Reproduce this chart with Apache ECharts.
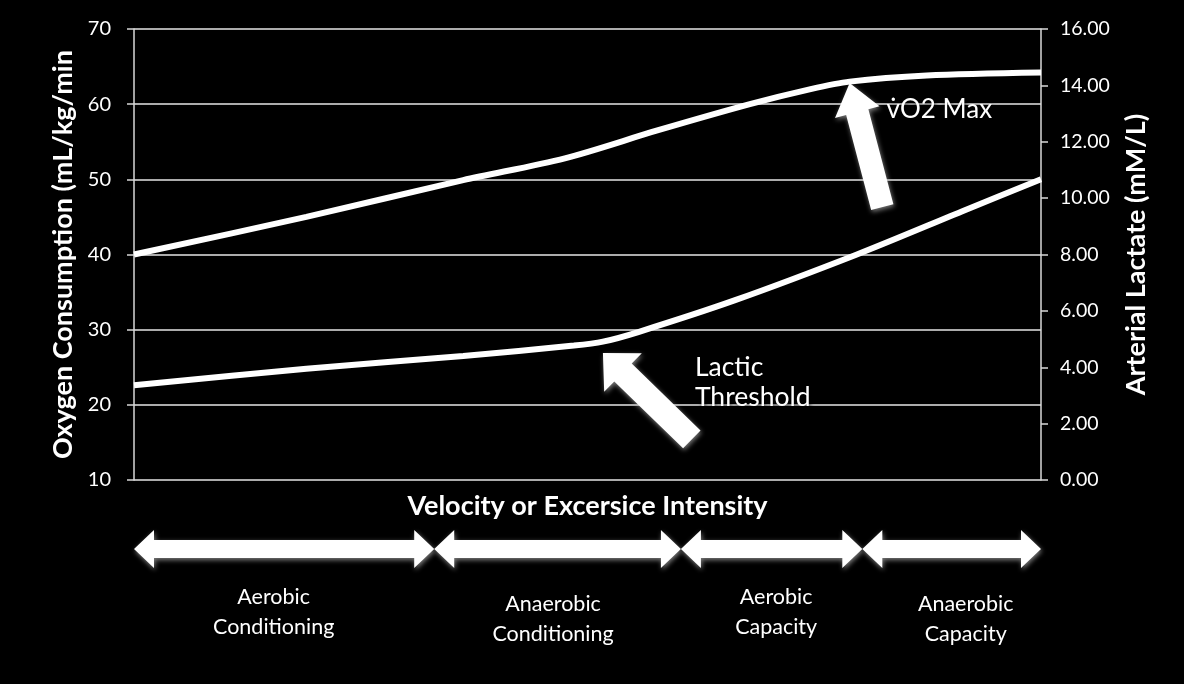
<!DOCTYPE html>
<html><head><meta charset="utf-8">
<script src="https://cdn.jsdelivr.net/npm/echarts@6/dist/echarts.min.js"></script>
<style>html,body{margin:0;padding:0;background:#000;}#c{width:1184px;height:684px;}</style>
</head><body><div id="c"></div>
<script>
// ---- data ----
const leftTicks = [10, 20, 30, 40, 50, 60, 70];
const rightTicks = [0, 2, 4, 6, 8, 10, 12, 14, 16];
const intensityX = [0, 19, 36.3, 47.5, 57.7, 67.9, 74.6, 78.9, 87.4, 100];
const vo2Values = [40, 45, 49.9, 52.8, 56.5, 60, 62.0, 63.0, 63.8, 64.2];
const lactateX = [0, 19, 36.3, 48.5, 51.7, 55.6, 66.2, 79.7, 91.6, 100];
const lactateValues = [3.36, 3.95, 4.40, 4.77, 4.91, 5.25, 6.37, 8.00, 9.57, 10.67];
const zoneNames = ['Aerobic\nConditioning', 'Anaerobic\nConditioning', 'Aerobic\nCapacity', 'Anaerobic\nCapacity'];
const zoneBounds = [0, 33.1, 60.3, 80.3, 100];
const zoneLabelX = [15.4, 46.2, 70.8, 91.7];
const xAxisTitle = 'Velocity or Excersice Intensity';
const leftTitle = 'Oxygen Consumption (mL/kg/min';
const rightTitle = 'Arterial Lactate (mM/L)';
// annotation anchors in data units [x, leftAxisValue]
const vo2MaxTip = [78.9, 62.8], vo2MaxTail = [82.5, 46.3];
const lacticTip = [51.7, 26.9], lacticTail = [61.5, 15.4];

const FONT = 'Lato, "Open Sans", sans-serif';
const chart = echarts.init(document.getElementById('c'));
const zip = (xs, ys) => xs.map((x, i) => [x, ys[i]]);

chart.setOption({
  backgroundColor: '#000',
  animation: false,
  grid: { left: 134, right: 143, top: 29, bottom: 204 },
  xAxis: { type: 'value', min: 0, max: 100, show: false },
  yAxis: [
    {
      type: 'value', position: 'left',
      min: leftTicks[0], max: leftTicks[leftTicks.length - 1], interval: 10,
      axisLine: { show: true, lineStyle: { color: '#d8d8d8', width: 1.5 } },
      axisTick: { show: true, length: 7, lineStyle: { color: '#d8d8d8', width: 1.5 } },
      splitLine: { show: true, lineStyle: { color: '#e6e6e6', width: 1.5 } },
      axisLabel: { color: '#fff', fontSize: 20, fontFamily: FONT, margin: 23 },
      name: leftTitle, nameLocation: 'middle', nameGap: 57,
      nameTextStyle: { color: '#fff', fontSize: 27, fontWeight: 'bold', fontFamily: FONT }
    },
    {
      type: 'value', position: 'right',
      min: rightTicks[0], max: rightTicks[rightTicks.length - 1], interval: 2,
      axisLine: { show: true, lineStyle: { color: '#d8d8d8', width: 1.5 } },
      axisTick: { show: true, length: 7, lineStyle: { color: '#d8d8d8', width: 1.5 } },
      splitLine: { show: false },
      axisLabel: { color: '#fff', fontSize: 19.5, fontFamily: FONT, margin: 19, formatter: v => v.toFixed(2) },
      name: rightTitle, nameLocation: 'middle', nameGap: 82,
      nameTextStyle: { color: '#fff', fontSize: 27, fontWeight: 'bold', fontFamily: FONT }
    }
  ],
  series: [
    { type: 'line', yAxisIndex: 0, data: zip(intensityX, vo2Values), smooth: 0.3, showSymbol: false,
      lineStyle: { color: '#fff', width: 6 } },
    { type: 'line', yAxisIndex: 1, data: zip(lactateX, lactateValues), smooth: 0.3, showSymbol: false,
      lineStyle: { color: '#fff', width: 6 } }
  ]
});

function px(pt) { return chart.convertToPixel({ gridIndex: 0 }, pt); }
function arrow(tail, tip, shaftW, headW, headL) {
  const dx = tip[0] - tail[0], dy = tip[1] - tail[1];
  const len = Math.hypot(dx, dy), ux = dx / len, uy = dy / len, nx = -uy, ny = ux;
  const neck = [tip[0] - ux * headL, tip[1] - uy * headL];
  return [
    [tail[0] + nx * shaftW / 2, tail[1] + ny * shaftW / 2],
    [neck[0] + nx * shaftW / 2, neck[1] + ny * shaftW / 2],
    [neck[0] + nx * headW / 2, neck[1] + ny * headW / 2],
    tip,
    [neck[0] - nx * headW / 2, neck[1] - ny * headW / 2],
    [neck[0] - nx * shaftW / 2, neck[1] - ny * shaftW / 2],
    [tail[0] - nx * shaftW / 2, tail[1] - ny * shaftW / 2]
  ];
}
function doubleArrow(x1, x2, yc, sh, hh, hl) {
  return [[x1, yc], [x1 + hl, yc - hh], [x1 + hl, yc - sh], [x2 - hl, yc - sh], [x2 - hl, yc - hh],
          [x2, yc], [x2 - hl, yc + hh], [x2 - hl, yc + sh], [x1 + hl, yc + sh], [x1 + hl, yc + hh]];
}
const shadow = { shadowBlur: 5, shadowColor: 'rgba(180,180,180,0.7)', shadowOffsetX: 1, shadowOffsetY: 2 };
const textShadow = { textShadowBlur: 4, textShadowColor: 'rgba(0,0,0,0.9)', textShadowOffsetX: 1, textShadowOffsetY: 2 };
const g = [];
const xLeft = px([0, 10])[0], xRight = px([100, 10])[0];
// x axis title
g.push({ type: 'text', x: (xLeft + xRight) / 2, y: 506,
  style: { text: xAxisTitle, fill: '#fff', font: 'bold 27px ' + FONT, align: 'center', verticalAlign: 'middle' } });
// zone arrows and labels
for (let i = 0; i < zoneNames.length; i++) {
  const a = px([zoneBounds[i], 10])[0], b = px([zoneBounds[i + 1], 10])[0];
  g.push({ type: 'polygon', shape: { points: doubleArrow(a, b, 549, 9, 19, 20) },
    style: Object.assign({ fill: '#fff' }, shadow) });
  const cx = px([zoneLabelX[i], 10])[0];
  const lines = zoneNames[i].split('\n');
  const top = (i % 2 === 0) ? 597 : 604;
  lines.forEach((t, k) => g.push({ type: 'text', x: cx, y: top + k * 30,
    style: Object.assign({ text: t, fill: '#fff', font: '21.5px ' + FONT, align: 'center', verticalAlign: 'middle' }, textShadow) }));
}
// annotation arrows
g.push({ type: 'polygon', shape: { points: arrow(px(vo2MaxTail), px(vo2MaxTip), 23, 46, 30) },
  style: Object.assign({ fill: '#fff' }, shadow) });
g.push({ type: 'polygon', shape: { points: arrow(px(lacticTail), px(lacticTip), 25, 54, 28) },
  style: Object.assign({ fill: '#fff' }, shadow) });
const vt = px(vo2MaxTip);
g.push({ type: 'text', x: vt[0] + 37, y: vt[1] + 26,
  style: Object.assign({ text: 'v\u0307O2 Max', fill: '#fff', font: '26px ' + FONT, align: 'left', verticalAlign: 'middle' }, textShadow) });
const lt = px(lacticTip);
g.push({ type: 'text', x: lt[0] + 92, y: lt[1] + 14,
  style: Object.assign({ text: 'Lactic', fill: '#fff', font: '26.5px ' + FONT, align: 'left', verticalAlign: 'middle' }, textShadow) });
g.push({ type: 'text', x: lt[0] + 92, y: lt[1] + 44,
  style: Object.assign({ text: 'Threshold', fill: '#fff', font: '26.5px ' + FONT, align: 'left', verticalAlign: 'middle' }, textShadow) });
chart.setOption({ graphic: g });
</script>
</body></html>
